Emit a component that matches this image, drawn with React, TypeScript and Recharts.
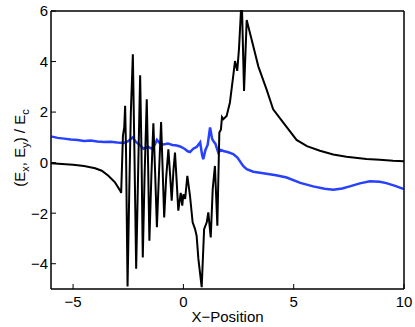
import { LineChart, Line, XAxis, YAxis, ReferenceArea } from 'recharts';

// Ex (black) trace
const exX = [
  -6.0, -5.5, -5.0, -4.5, -4.0, -3.7, -3.4, -3.1, -2.87, -2.82, -2.74, -2.68, -2.64, -2.6, -2.53,
  -2.45, -2.38, -2.29, -2.22, -2.14, -2.06, -1.96, -1.9, -1.84, -1.76, -1.66, -1.6, -1.54, -1.45,
  -1.36, -1.28, -1.2, -1.1, -1.01, -0.95, -0.87, -0.78, -0.68, -0.6, -0.53, -0.45, -0.38, -0.3,
  -0.23, -0.12, -0.05, 0.0, 0.08, 0.18, 0.3, 0.42, 0.53, 0.6, 0.68, 0.83, 0.94, 1.06, 1.13, 1.24,
  1.33, 1.43, 1.54, 1.63, 1.7, 1.75, 1.81, 1.96, 2.11, 2.26, 2.34, 2.44, 2.52, 2.61, 2.66, 2.75,
  2.87, 3.09, 3.4, 3.77, 4.07, 4.52, 5.13, 5.6, 6.19, 6.79, 7.39, 8.3, 8.9, 9.5, 10.0,
];
const exY = [
  -0.02, -0.05, -0.08, -0.13, -0.22, -0.32, -0.52, -0.78, -1.1, -1.2, 1.06, 1.4, 2.25, 0.5, -4.9,
  -1.0, 2.0, 4.29, 0.5, -4.2, -0.8, 3.46, 0.5, -3.75, -0.6, 2.51, 0.0, -3.09, -0.5,
  1.56, -0.4, -2.56, -0.3, 1.61, 0.0, -2.17, -0.6, 0.53, -0.5, -1.51, -0.3, 0.4, -0.8,
  -1.9, -1.2, -1.7, -1.25, -1.44, -0.52, -1.31, -2.36, -2.63, -2.89, -3.81, -4.93, -2.63, -2.36, -1.97, -2.96,
  -1.05, -0.13, -2.5, 1.19, 1.3, 1.8, 1.72, 1.85, 2.38, 3.43, 4.02, 3.63, 4.49, 6.0, 6.0, 2.84,
  5.64, 4.88, 3.8, 2.9, 2.11, 1.59, 0.9, 0.65, 0.47, 0.32, 0.23, 0.14, 0.11, 0.07, 0.05,
];

// Ey (blue) trace
const eyX = [
  -6.0, -5.7, -5.4, -5.1, -4.8, -4.5, -4.2, -3.9, -3.6, -3.3, -3.0, -2.7, -2.5, -2.3, -2.15, -2.0,
  -1.81, -1.6, -1.43, -1.3, -1.2, -1.05, -0.9, -0.7, -0.5, -0.3, -0.15, 0.05, 0.2, 0.3, 0.45, 0.6,
  0.76, 0.85, 0.9, 1.0, 1.1, 1.21, 1.3, 1.36, 1.45, 1.58, 1.7, 1.81, 2.0, 2.26, 2.45, 2.71, 2.87,
  3.17, 3.62, 4.2, 4.68, 5.3, 5.88, 6.4, 6.79, 7.2, 7.54, 8.0, 8.45, 8.9, 9.2, 9.6, 10.0,
];
const eyY = [
  1.04, 0.98, 0.95, 0.92, 0.9, 0.86, 0.88, 0.84, 0.82, 0.83, 0.8, 0.78, 0.85, 1.0, 0.82, 0.72,
  0.55, 0.62, 0.55, 0.7, 0.9, 0.75, 0.72, 0.76, 0.7, 0.68, 0.64, 0.55, 0.45, 0.42, 0.55, 0.62,
  0.8, 0.3, 0.14, 0.5, 0.7, 1.39, 0.95, 0.85, 0.75, 0.4, 0.5, 0.46, 0.42, 0.34, 0.2, -0.13, -0.26,
  -0.36, -0.42, -0.5, -0.59, -0.8, -0.94, -1.03, -1.07, -1.02, -0.94, -0.82, -0.74, -0.76, -0.81, -0.92, -1.05,
];

const xTicks = [-5, 0, 5, 10];
const yTicks = [-4, -2, 0, 2, 4, 6];
const xDomain = [-6, 10];
const yDomain = [-5, 6];

const exData = exX.map((x, i) => ({ x, y: exY[i] }));
const eyData = eyX.map((x, i) => ({ x, y: eyY[i] }));

const AXIS = '#000';
const fmt = (v: number) => String(v).replace('-', '\u2212');

function YLabel({ viewBox }: any) {
  const cx = viewBox.x + 25;
  const cy = viewBox.y + viewBox.height / 2 - 2;
  return (
    <text transform={`translate(${cx},${cy}) rotate(-90)`} textAnchor="middle" fontSize={15} fill="#000">
      (E<tspan dy={4} fontSize={11}>x</tspan>
      <tspan dy={-4}>, E</tspan>
      <tspan dy={4} fontSize={11}>y</tspan>
      <tspan dy={-4}>) / E</tspan>
      <tspan dy={4} fontSize={11}>c</tspan>
    </text>
  );
}

function XLabel({ viewBox }: any) {
  return (
    <text x={viewBox.x + viewBox.width / 2} y={viewBox.y + 33} textAnchor="middle" fontSize={15} fill="#000">
      X{'\u2212'}Position
    </text>
  );
}

export default function App() {
  return (
    <div style={{ position: 'absolute', left: 0, top: 0, width: 415, fontFamily: '"Liberation Sans", Arial, sans-serif' }}>
      <LineChart width={415} height={327} margin={{ top: 11, right: 11, bottom: 0, left: 0 }}>
        <XAxis
          type="number"
          dataKey="x"
          domain={xDomain}
          ticks={xTicks}
          stroke={AXIS}
          tick={{ fill: '#000', fontSize: 15 }}
          tickFormatter={fmt}
          tickSize={-5}
          tickMargin={12}
          height={38}
          label={XLabel}
        />
        <XAxis
          xAxisId="top"
          orientation="top"
          type="number"
          dataKey="x"
          domain={xDomain}
          ticks={xTicks}
          mirror
          tick={false}
          tickSize={5}
          stroke={AXIS}
        />
        <YAxis
          type="number"
          domain={yDomain}
          ticks={yTicks}
          stroke={AXIS}
          tick={{ fill: '#000', fontSize: 15 }}
          tickFormatter={fmt}
          tickSize={-5}
          tickMargin={8}
          width={51}
          label={YLabel}
        />
        <YAxis
          yAxisId="right"
          orientation="right"
          type="number"
          domain={yDomain}
          ticks={yTicks}
          mirror
          tick={false}
          tickSize={5}
          stroke={AXIS}
        />
        <ReferenceArea
          x1={xDomain[0]}
          x2={xDomain[1]}
          y1={yDomain[0]}
          y2={yDomain[1]}
          fill="none"
          stroke={AXIS}
          strokeWidth={1}
          ifOverflow="visible"
        />
        <Line data={eyData} dataKey="y" type="linear" stroke="#2840ff" strokeWidth={2.5} dot={false} isAnimationActive={false} />
        <Line data={exData} dataKey="y" type="linear" stroke="#000" strokeWidth={2} dot={false} isAnimationActive={false} />
      </LineChart>
    </div>
  );
}
